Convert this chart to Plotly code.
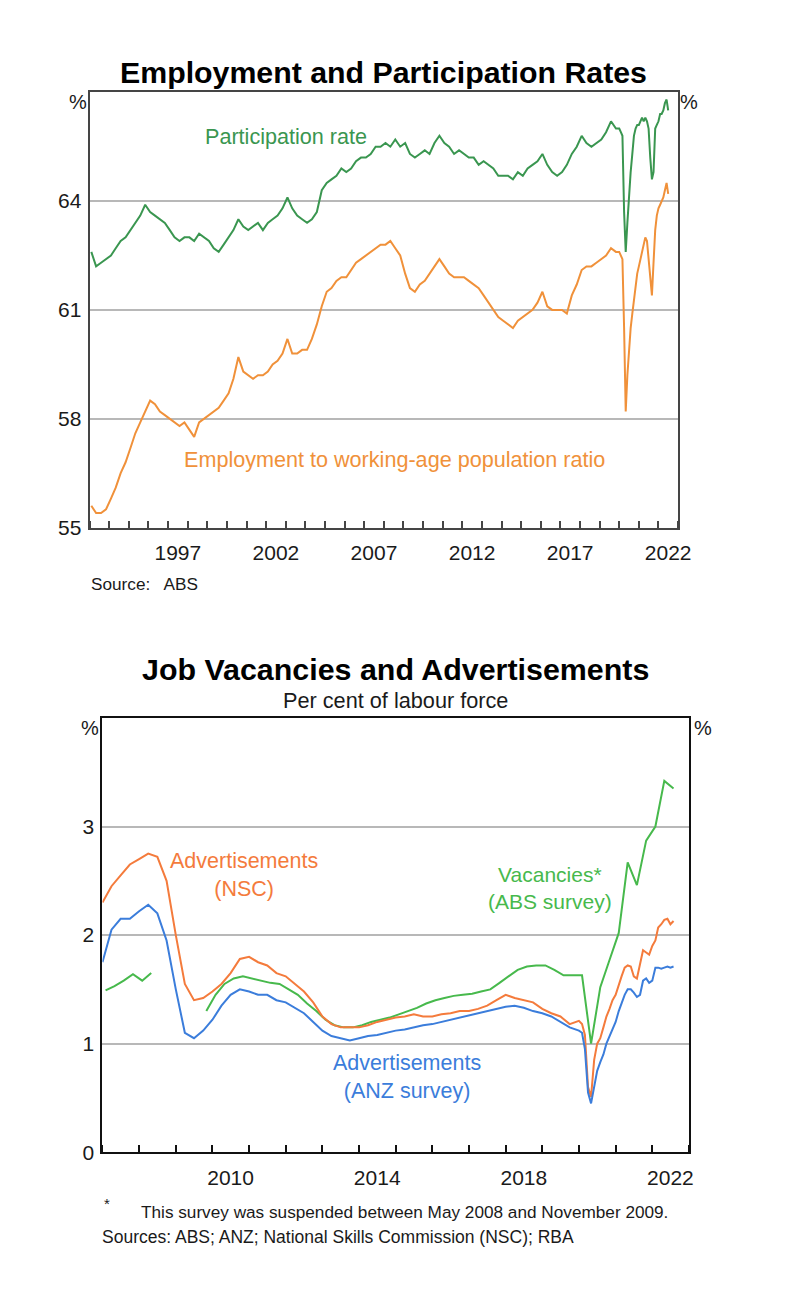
import pandas as pd
import plotly.graph_objects as go

W, H = 810, 1298
FONT = "Liberation Sans, Arial, sans-serif"


def px(x):
    return x / W


def py(y):
    return 1 - y / H


# ---------------- Top chart data (per cent) ----------------
# Quarterly readings Feb 1993 - Nov 2019
top_q_dates = pd.date_range("1993-02-01", "2019-11-01", freq="3MS")
participation_q = [
    62.6, 62.2, 62.3, 62.4,
    62.5, 62.7, 62.9, 63.0,
    63.2, 63.4, 63.6, 63.9,
    63.7, 63.6, 63.5, 63.4,
    63.2, 63.0, 62.9, 63.0,
    63.0, 62.9, 63.1, 63.0,
    62.9, 62.7, 62.6, 62.8,
    63.0, 63.2, 63.5, 63.3,
    63.2, 63.3, 63.4, 63.2,
    63.4, 63.5, 63.6, 63.8,
    64.1, 63.8, 63.6, 63.5,
    63.4, 63.5, 63.7, 64.3,
    64.5, 64.6, 64.7, 64.9,
    64.8, 64.9, 65.1, 65.2,
    65.2, 65.3, 65.5, 65.5,
    65.6, 65.5, 65.7, 65.5,
    65.6, 65.3, 65.2, 65.3,
    65.4, 65.3, 65.6, 65.8,
    65.6, 65.5, 65.3, 65.4,
    65.3, 65.2, 65.2, 65.0,
    65.1, 65.0, 64.9, 64.7,
    64.7, 64.7, 64.6, 64.8,
    64.7, 64.9, 65.0, 65.1,
    65.3, 65.0, 64.8, 64.7,
    64.8, 65.0, 65.3, 65.5,
    65.8, 65.6, 65.5, 65.6,
    65.7, 65.9, 66.2, 66.0,
]
employment_q = [
    55.6, 55.4, 55.4, 55.5,
    55.8, 56.1, 56.5, 56.8,
    57.2, 57.6, 57.9, 58.2,
    58.5, 58.4, 58.2, 58.1,
    58.0, 57.9, 57.8, 57.9,
    57.7, 57.5, 57.9, 58.0,
    58.1, 58.2, 58.3, 58.5,
    58.7, 59.1, 59.7, 59.3,
    59.2, 59.1, 59.2, 59.2,
    59.3, 59.5, 59.6, 59.8,
    60.2, 59.8, 59.8, 59.9,
    59.9, 60.2, 60.6, 61.1,
    61.5, 61.6, 61.8, 61.9,
    61.9, 62.1, 62.3, 62.4,
    62.5, 62.6, 62.7, 62.8,
    62.8, 62.9, 62.7, 62.5,
    62.0, 61.6, 61.5, 61.7,
    61.8, 62.0, 62.2, 62.4,
    62.2, 62.0, 61.9, 61.9,
    61.9, 61.8, 61.7, 61.6,
    61.4, 61.2, 61.0, 60.8,
    60.7, 60.6, 60.5, 60.7,
    60.8, 60.9, 61.0, 61.2,
    61.5, 61.1, 61.0, 61.0,
    61.0, 60.9, 61.4, 61.7,
    62.1, 62.2, 62.2, 62.3,
    62.4, 62.5, 62.7, 62.6,
]
# Monthly readings Jan 2020 - Jul 2022
top_m_dates = pd.date_range("2020-01-01", "2022-07-01", freq="MS")
participation_m = [
    66.0, 65.9, 65.8, 63.7, 62.6, 63.4, 64.2, 64.8, 65.3, 65.8, 66.0, 66.1,
    66.1, 66.2, 66.3, 66.2, 66.3, 66.2, 66.0, 65.2, 64.6, 64.8, 66.0, 66.1,
    66.2, 66.4, 66.4, 66.5, 66.7, 66.8, 66.5,
]
employment_m = [
    62.6, 62.5, 62.4, 60.5, 58.2, 59.2, 60.0, 60.5, 60.9, 61.3, 61.7, 62.0,
    62.2, 62.4, 62.6, 62.8, 63.0, 62.9, 62.4, 61.9, 61.4, 62.3, 63.2, 63.6,
    63.8, 63.9, 64.0, 64.1, 64.3, 64.5, 64.2,
]
top_ticks_years = [1997, 2002, 2007, 2012, 2017, 2022]
top_y_ticks = [55, 58, 61, 64]

# ---------------- Bottom chart data (per cent of labour force) ----------------
bot_q_dates = pd.date_range("2007-01-01", "2019-10-01", freq="3MS")
ads_anz_q = [
    1.75, 2.05, 2.15, 2.15,
    2.22, 2.28, 2.20, 1.95,
    1.50, 1.10, 1.05, 1.12,
    1.22, 1.35, 1.45, 1.50,
    1.48, 1.45, 1.45, 1.40,
    1.38, 1.33, 1.28, 1.20,
    1.12, 1.07, 1.05, 1.03,
    1.05, 1.07, 1.08, 1.10,
    1.12, 1.13, 1.15, 1.17,
    1.18, 1.20, 1.22, 1.24,
    1.26, 1.28, 1.30, 1.32,
    1.34, 1.35, 1.33, 1.30,
    1.28, 1.25, 1.20, 1.15,
]
ads_nsc_q = [
    2.30, 2.45, 2.55, 2.65,
    2.70, 2.75, 2.72, 2.50,
    2.00, 1.55, 1.40, 1.42,
    1.48, 1.55, 1.65, 1.78,
    1.80, 1.75, 1.72, 1.65,
    1.62, 1.55, 1.48, 1.38,
    1.25, 1.18, 1.15, 1.15,
    1.15, 1.17, 1.20, 1.22,
    1.24, 1.25, 1.27, 1.25,
    1.25, 1.27, 1.28, 1.30,
    1.30, 1.32, 1.35, 1.40,
    1.45, 1.42, 1.40, 1.38,
    1.32, 1.28, 1.25, 1.18,
]
bot_m_dates = pd.date_range("2020-01-01", "2022-08-01", freq="MS")
ads_anz_m = [
    1.12, 1.10, 0.95, 0.55, 0.45, 0.60, 0.75, 0.83, 0.90, 1.00, 1.07, 1.13,
    1.20, 1.30, 1.38, 1.45, 1.50, 1.50, 1.47, 1.43, 1.45, 1.58, 1.60, 1.56,
    1.58, 1.70, 1.70, 1.69, 1.70, 1.71, 1.70, 1.71,
]
ads_nsc_m = [
    1.21, 1.18, 1.08, 0.60, 0.51, 0.85, 1.00, 1.05, 1.15, 1.25, 1.32, 1.40,
    1.45, 1.55, 1.62, 1.70, 1.72, 1.71, 1.62, 1.60, 1.75, 1.86, 1.84, 1.82,
    1.90, 1.95, 2.07, 2.10, 2.14, 2.15, 2.10, 2.13,
]
vac_dates = pd.date_range("2007-02-01", "2022-08-01", freq="3MS")
vacancies = [
    1.49, 1.53, 1.58, 1.64,
    1.58, 1.65, None, None,
    None, None, None, 1.30,
    1.45, 1.55, 1.60, 1.62,
    1.60, 1.58, 1.56, 1.55,
    1.50, 1.45, 1.37, 1.30,
    1.22, 1.17, 1.15, 1.15,
    1.17, 1.20, 1.22, 1.24,
    1.27, 1.30, 1.33, 1.37,
    1.40, 1.42, 1.44, 1.45,
    1.46, 1.48, 1.50, 1.56,
    1.62, 1.68, 1.71, 1.72,
    1.72, 1.68, 1.63, 1.63,
    1.63, 1.00, 1.52, 1.77,
    2.02, 2.67, 2.46, 2.87,
    3.00, 3.42, 3.35,
]
bot_ticks_years = [2010, 2014, 2018, 2022]
bot_y_ticks = [0, 1, 2, 3]

# ---------------- Styles ----------------
GREEN_TOP = "#3a9650"
ORANGE_TOP = "#f0913a"
ORANGE_BOT = "#f47b3c"
BLUE_BOT = "#3b7ddb"
GREEN_BOT = "#47b94c"
GRID = "#b8b8b8"
FRAME_TOP = "#454545"
FRAME_BOT = "#111111"

fig = go.Figure()

fig.add_trace(go.Scatter(
    x=list(top_q_dates) + list(top_m_dates), y=participation_q + participation_m,
    mode="lines", line=dict(color=GREEN_TOP, width=2), xaxis="x", yaxis="y",
    name="Participation rate"))
fig.add_trace(go.Scatter(
    x=list(top_q_dates) + list(top_m_dates), y=employment_q + employment_m,
    mode="lines", line=dict(color=ORANGE_TOP, width=2), xaxis="x", yaxis="y",
    name="Employment to working-age population ratio"))

fig.add_trace(go.Scatter(
    x=vac_dates, y=vacancies, mode="lines", connectgaps=False,
    line=dict(color=GREEN_BOT, width=2), xaxis="x2", yaxis="y2", name="Vacancies"))
fig.add_trace(go.Scatter(
    x=list(bot_q_dates) + list(bot_m_dates), y=ads_nsc_q + ads_nsc_m,
    mode="lines", line=dict(color=ORANGE_BOT, width=2), xaxis="x2", yaxis="y2",
    name="Advertisements (NSC)"))
fig.add_trace(go.Scatter(
    x=list(bot_q_dates) + list(bot_m_dates), y=ads_anz_q + ads_anz_m,
    mode="lines", line=dict(color=BLUE_BOT, width=2), xaxis="x2", yaxis="y2",
    name="Advertisements (ANZ survey)"))

TICKFONT = dict(family=FONT, size=21, color="#1a1a1a")


def xaxis_cfg(domain, anchor, start, end, years, frame, standoff):
    return dict(
        domain=domain, anchor=anchor, type="date", range=[start, end],
        tickvals=[f"{y}-07-01" for y in years], ticktext=[str(y) for y in years],
        ticks="", showgrid=False, zeroline=False,
        showline=True, linecolor=frame, linewidth=2, mirror=True,
        tickfont=TICKFONT, ticklabelstandoff=standoff,
        minor=dict(ticks="inside", dtick="M12", tick0=start, ticklen=7,
                   tickcolor=frame, tickwidth=1.5, showgrid=False),
    )


def yaxis_cfg(domain, anchor, rng, ticks, frame):
    return dict(
        domain=domain, anchor=anchor, range=rng, tickvals=ticks,
        ticks="", showgrid=True, gridcolor=GRID, gridwidth=1.5, zeroline=False,
        showline=True, linecolor=frame, linewidth=2, mirror=True,
        tickfont=TICKFONT, ticklabelstandoff=2,
    )


def yaxis_right(overlay, anchor, rng, ticks):
    return dict(
        overlaying=overlay, anchor=anchor, side="right", range=rng, tickvals=ticks,
        ticks="", showgrid=False, zeroline=False, showline=False,
        tickfont=TICKFONT, ticklabelstandoff=2,
    )


fig.update_layout(
    width=W, height=H, autosize=False,
    margin=dict(l=0, r=0, t=0, b=0),
    paper_bgcolor="white", plot_bgcolor="white",
    showlegend=False,
    font=dict(family=FONT, color="#1a1a1a"),
    xaxis=xaxis_cfg([px(83), px(681)], "y", "1993-01-01", "2023-01-01",
                    top_ticks_years, FRAME_TOP, 5),
    yaxis=yaxis_cfg([py(524), py(85)], "x", [55, 67], top_y_ticks, FRAME_TOP),
    yaxis3=yaxis_right("y", "x", [55, 67], top_y_ticks),
    xaxis2=xaxis_cfg([px(96), px(692)], "y2", "2007-01-01", "2023-01-01",
                     bot_ticks_years, FRAME_BOT, 6),
    yaxis2=yaxis_cfg([py(1154), py(716)], "x2", [0, 4], bot_y_ticks, FRAME_BOT),
    yaxis4=yaxis_right("y2", "x2", [0, 4], bot_y_ticks),
)


def note(text, x, y, size=21, color="#1a1a1a", xanchor="center", bold=False, align="center"):
    fig.add_annotation(
        text=f"<b>{text}</b>" if bold else text,
        x=px(x), y=py(y), xref="paper", yref="paper",
        xanchor=xanchor, yanchor="middle", showarrow=False, align=align,
        font=dict(family=FONT, size=size, color=color))


# Titles
note("Employment and Participation Rates", 382, 65, size=30.3, color="#000000", bold=True)
note("Job Vacancies and Advertisements", 394, 667, size=30.4, color="#000000", bold=True)
note("Per cent of labour force", 394, 698, size=21.7)

# Unit labels
note("%", 71, 95, size=20)
note("%", 692, 95, size=20)
note("%", 83, 726, size=20)
note("%", 706, 726, size=20)

# Series labels
note("Participation rate", 283, 130, size=21.6, color=GREEN_TOP)
note("Employment to working-age population ratio", 393, 455, size=21.6, color=ORANGE_TOP)
note("Advertisements<br>(NSC)", 240, 874, size=21.5, color=ORANGE_BOT)
note("Vacancies*<br>(ABS survey)", 551, 888, size=21, color=GREEN_BOT)
note("Advertisements<br>(ANZ survey)", 406, 1078, size=21.5, color=BLUE_BOT)

# Sources / footnotes
note("Source:\u00a0\u00a0 ABS", 82, 581, size=17.2, xanchor="left")
note("*", 96, 1206, size=15, xanchor="left")
note("This survey was suspended between May 2008 and November 2009.", 133, 1214,
     size=17.2, xanchor="left")
note("Sources: ABS; ANZ; National Skills Commission (NSC); RBA", 93, 1240,
     size=17.5, xanchor="left")

fig.write_html("out.html")
